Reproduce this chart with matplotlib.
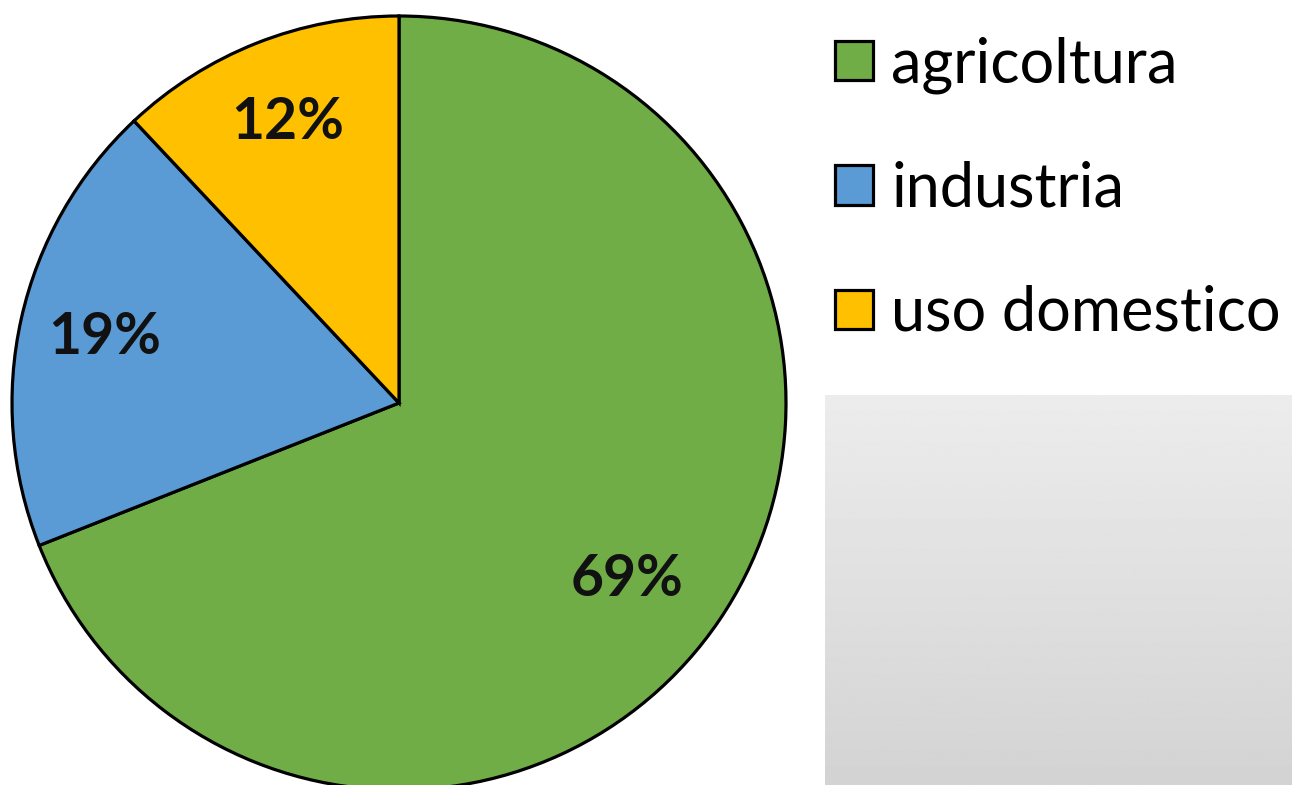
import numpy as np
import matplotlib.pyplot as plt

# water use by sector
categories = ['agricoltura', 'industria', 'uso domestico']
shares = [69, 19, 12]
colors = ['#70ad47', '#5b9bd5', '#ffc000']

W, H = 1292, 785
fig = plt.figure(figsize=(W / 100, H / 100), dpi=100)
fig.patch.set_facecolor('white')

# pie axes: centre (399, 403) px, radius 387 px
cx, cy, r = 399, 403, 387
ax = fig.add_axes([(cx - r) / W, (H - cy - r) / H, 2 * r / W, 2 * r / H])

wedges, texts, autotexts = ax.pie(
    shares, colors=colors, startangle=90, counterclock=False, radius=1,
    autopct='%1.0f%%', pctdistance=0.78,
    wedgeprops=dict(edgecolor='black', linewidth=2.3),
    textprops=dict(fontsize=41, fontweight='bold', family='Lato', color='#111111'))
for w in wedges:
    w.set_clip_on(False)
ax.set_xlim(-1, 1)
ax.set_ylim(-1, 1)
ax.set_aspect('equal')
ax.axis('off')

# nudge the big slice's label a bit towards the centre
ang = np.deg2rad(-37.8)
autotexts[0].set_position((0.745 * np.cos(ang), 0.745 * np.sin(ang)))

leg = ax.legend(wedges, categories, loc='upper left',
                bbox_to_anchor=(835 / W, 1 - 36 / H), bbox_transform=fig.transFigure,
                frameon=False, prop=dict(family='Lato', size=44),
                handlelength=0.62, handleheight=0.62, handletextpad=0.3,
                labelspacing=1.1, borderpad=0, borderaxespad=0)

# grey gradient panel in the lower right corner
gax = fig.add_axes([825 / W, 0, (W - 825) / W, (H - 395) / H])
grad = np.linspace(236, 211, 200).reshape(-1, 1)
gax.imshow(grad, cmap='gray', vmin=0, vmax=255, aspect='auto', interpolation='bilinear')
gax.axis('off')

fig.savefig('out.png', dpi=100)
